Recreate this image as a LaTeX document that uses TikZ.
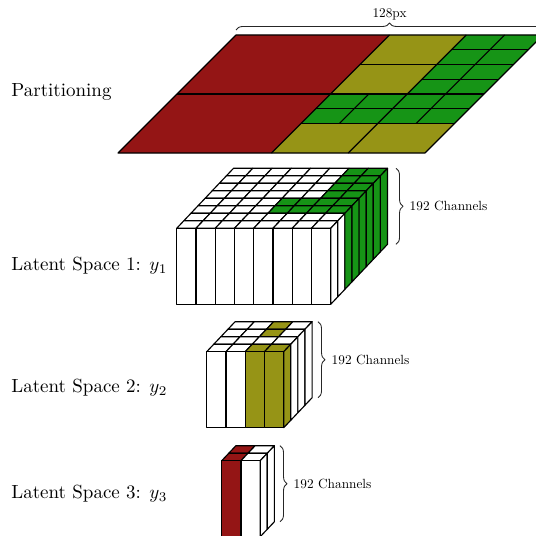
\documentclass[tikz,border=0pt]{standalone}
\usetikzlibrary{decorations.pathreplacing}
\definecolor{pred}{RGB}{148,21,21}
\definecolor{pyel}{RGB}{150,148,22}
\definecolor{pgrn}{RGB}{22,148,22}
\def\cellw{19.25}
\def\depx{7.1}
\def\depy{-7.5}
\def\colh{76}
\newcommand\lcube[7]{%
  \pgfmathtruncatemacro\nmax{#3-1}%
  \foreach \r in {\nmax,...,0}{%
    \foreach \c in {0,...,\nmax}{%
      \pgfmathtruncatemacro\on{(#5)?1:0}%
      \ifnum\on=1 \def\fc{#4}\else\def\fc{white}\fi
      \filldraw[cell, fill=\fc] ({#1+\c*\cellw+\r*\depx},{#2+\r*\depy}) -- ++(\cellw,0) -- ++(\depx,\depy) -- ++(-\cellw,0) -- cycle;
    }%
  }%
  \foreach \c in {0,...,\nmax}{%
    \pgfmathtruncatemacro\on{(#6)?1:0}%
    \ifnum\on=1 \def\fc{#4}\else\def\fc{white}\fi
    \filldraw[cell, fill=\fc] ({#1+\c*\cellw},{#2}) -- ++(\cellw,0) -- ++(0,\colh) -- ++(-\cellw,0) -- cycle;
  }%
  \foreach \r in {0,...,\nmax}{%
    \pgfmathtruncatemacro\on{(#7)?1:0}%
    \ifnum\on=1 \def\fc{#4}\else\def\fc{white}\fi
    \filldraw[cell, fill=\fc] ({#1+#3*\cellw+\r*\depx},{#2+\r*\depy}) -- ++(\depx,\depy) -- ++(0,\colh) -- ++(-\depx,-\depy) -- cycle;
  }%
}
\begin{document}
\begin{tikzpicture}[x=0.526pt,y=-0.526pt, line join=round,
  cell/.style={draw=black, line width=0.6pt},
  brc/.style={decorate, decoration={brace, amplitude=3.7pt}, draw=black!85, line width=0.45pt},
  lbl/.style={anchor=base west, inner sep=0pt},
  small/.style={anchor=west}]
\useasboundingbox (0,0) rectangle (536,535);

% partitioning
\begin{scope}[shift={(118,153)}, x={(161.48pt,0pt)}, y={(62.07pt,62.07pt)}, line width=0.6pt]
  \fill[pred] (0,0)--(0.5,0)--(0.5,1)--(0,1)--cycle;
  \fill[pyel] (0.5,0.5)--(0.75,0.5)--(0.75,1)--(0.5,1)--cycle;
  \fill[pyel] (0.5,0)--(1,0)--(1,0.25)--(0.5,0.25)--cycle;
  \fill[pgrn] (0.75,0.5)--(1,0.5)--(1,1)--(0.75,1)--cycle;
  \fill[pgrn] (0.5,0.25)--(1,0.25)--(1,0.5)--(0.5,0.5)--cycle;
  \draw (0,0)--(1,0)--(1,1)--(0,1)--cycle;
  \draw (0,0.5)--(1,0.5);
  \draw (0.5,0)--(0.5,1);
  \draw (0.75,0)--(0.75,1);
  \draw (0.5,0.75)--(1,0.75);
  \draw (0.75,0.625)--(1,0.625) (0.75,0.875)--(1,0.875);
  \draw (0.875,0.5)--(0.875,1);
  \draw (0.5,0.25)--(1,0.25) (0.5,0.375)--(1,0.375);
  \draw (0.625,0.25)--(0.625,0.5) (0.875,0.25)--(0.875,0.5);
\end{scope}
\draw[brc] (236,30) -- (543,30);
\node (t128) at (389.5,14) {\scalebox{0.7}{128px}};

% latent cubes
\lcube{176.7}{228.3}{8}{pgrn}{((\c>5)&&(\r>3))||((\c>3)&&(\r>1)&&(\r<4))}{0}{\r>1}
\lcube{206.7}{351.7}{4}{pyel}{((\c==2)&&(\r>1))||((\c>1)&&(\r==0))}{\c>1}{\r==0}
\lcube{221.7}{460.7}{2}{pred}{\c==0}{\c==0}{0}

\draw[brc] (396,168.3) -- (396,244.3);
\node[small] (ch1) at (403,206.3) {\scalebox{0.7}{192 Channels}};
\draw[brc] (318,321.7) -- (318,397.7);
\node[small] (ch2) at (325,359.7) {\scalebox{0.7}{192 Channels}};
\draw[brc] (280,445.7) -- (280,521.7);
\node[small] (ch3) at (287,483.7) {\scalebox{0.7}{192 Channels}};

\node[lbl] (tpart) at (11,96.5) {Partitioning};
\node[lbl] (tl1) at (11,270.5) {Latent Space 1: $y_1$};
\node[lbl] (tl2) at (11,392.5) {Latent Space 2: $y_2$};
\node[lbl] (tl3) at (11,498.5) {Latent Space 3: $y_3$};
\end{tikzpicture}
\end{document}
